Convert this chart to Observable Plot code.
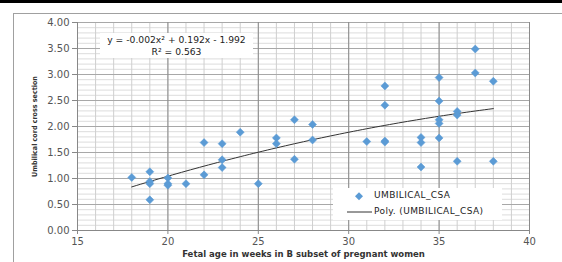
<!DOCTYPE html>
<html>
<head>
<meta charset="utf-8">
<script src="https://cdn.jsdelivr.net/npm/d3@7"></script>
<script src="https://cdn.jsdelivr.net/npm/@observablehq/plot@0.6"></script>
<style>
  html, body { margin: 0; padding: 0; background: #fff; }
  #wrap { position: relative; width: 562px; height: 262px; overflow: hidden; font-family: "DejaVu Sans", sans-serif; }
  #topbar { position: absolute; left: 0; top: 0; width: 562px; height: 3px; background: #000; }
  #frame { position: absolute; left: 13px; top: 13px; width: 560px; height: 260px; border-left: 1px solid #a0a0a0; border-top: 1px solid #a0a0a0; }
  #chart { position: absolute; left: 0; top: 0; }
  #eq { position: absolute; left: 100px; top: 33px; width: 153px; height: 25px; background: #fff; text-align: center; font-size: 9.2px; line-height: 12px; color: #222; white-space: nowrap; }
  #legend { position: absolute; left: 333px; top: 188px; width: 169px; height: 32px; background: #fff; font-size: 9px; color: #222; }
  .li { position: absolute; left: 41px; white-space: nowrap; letter-spacing: 0.4px; }
</style>
</head>
<body>
<div id="wrap">
  <div id="topbar"></div>
  <div id="frame"></div>
  <div id="chart"></div>
  <div id="eq"></div>
  <div id="legend"></div>
</div>
<script>
// Data
const ages = [18,19,19,19,19,20,20,20,21,22,22,23,23,23,24,25,26,26,27,27,28,28,31,32,32,32,32,34,34,34,35,35,35,35,35,36,36,36,37,37,38,38];
const csa  = [1.02,1.13,0.94,0.90,0.59,1.01,0.90,0.87,0.90,1.69,1.07,1.67,1.36,1.21,1.89,0.90,1.78,1.67,2.13,1.37,2.04,1.74,1.71,2.78,2.41,1.72,1.70,1.79,1.69,1.22,2.94,2.49,2.13,2.06,1.78,2.29,2.22,1.33,3.49,3.03,2.87,1.33];
const xTicks = [15,20,25,30,35,40];
const yTicks = [0,0.5,1,1.5,2,2.5,3,3.5,4];
const seriesName = "UMBILICAL_CSA";
const trendName = "Poly. (UMBILICAL_CSA)";
const equationText = "y = -0.002x\u00B2 + 0.192x - 1.992";
const r2Text = "R\u00B2 = 0.563";
const xTitle = "Fetal age in weeks in B subset of pregnant women";
const yTitle = "Umbilical cord cross section";

const data = ages.map((a, i) => ({age: a, csa: csa[i]}));

// Least-squares quadratic fit (as the spreadsheet trendline does)
function polyFit2(xs, ys) {
  const S = [0,0,0,0,0], T = [0,0,0];
  xs.forEach((x, i) => {
    let p = 1;
    for (let k = 0; k < 5; k++) { S[k] += p; if (k < 3) T[k] += p * ys[i]; p *= x; }
  });
  const A = [[S[0],S[1],S[2],T[0]],[S[1],S[2],S[3],T[1]],[S[2],S[3],S[4],T[2]]];
  for (let c = 0; c < 3; c++) {
    for (let r = c + 1; r < 3; r++) {
      const f = A[r][c] / A[c][c];
      for (let k = c; k < 4; k++) A[r][k] -= f * A[c][k];
    }
  }
  const sol = [0,0,0];
  for (let r = 2; r >= 0; r--) {
    let s = A[r][3];
    for (let k = r + 1; k < 3; k++) s -= A[r][k] * sol[k];
    sol[r] = s / A[r][r];
  }
  return sol; // c0, c1, c2
}
const [c0, c1, c2] = polyFit2(ages, csa);
const xmin = d3.min(ages), xmax = d3.max(ages);
const fit = d3.range(0, 81).map(i => {
  const x = xmin + (xmax - xmin) * i / 80;
  return {age: x, csa: c0 + c1 * x + c2 * x * x};
});

const minorX = d3.range(15, 41);
const minorY = d3.range(0, 41).map(i => i / 10);
const blue = "#5B9BD5";

const chart = Plot.plot({
  width: 562,
  height: 262,
  marginLeft: 77,
  marginRight: 33,
  marginTop: 22,
  marginBottom: 32,
  style: {fontFamily: "DejaVu Sans, sans-serif", fontSize: "10px", background: "transparent", color: "#555"},
  x: {domain: [15, 40]},
  y: {domain: [0, 4]},
  marks: [
    Plot.ruleY(minorY, {stroke: "#dcdcdc", strokeWidth: 1}),
    Plot.ruleX(minorX, {stroke: "#cfcfcf", strokeWidth: 1}),
    Plot.ruleY(yTicks, {stroke: "#a8a8a8", strokeWidth: 1}),
    Plot.ruleX(xTicks, {stroke: "#8a8a8a", strokeWidth: 1}),
    Plot.ruleX([15], {stroke: "#888", strokeWidth: 1}),
    Plot.ruleY([0], {stroke: "#888", strokeWidth: 1}),
    Plot.axisY({ticks: yTicks, tickFormat: d3.format(".2f"), tickSize: 5, tickPadding: 3, stroke: "#888", fill: "#555", fontSize: 10, label: null}),
    Plot.axisX({ticks: xTicks, tickFormat: d => String(d), tickSize: 4, tickPadding: 3, stroke: "#888", fill: "#555", fontSize: 10, label: null}),
    Plot.line(fit, {x: "age", y: "csa", stroke: "#333", strokeWidth: 1}),
    Plot.dot(data, {x: "age", y: "csa", symbol: "diamond2", r: 3.6, fill: blue, stroke: blue, strokeWidth: 0.5}),
    Plot.text([xTitle], {frameAnchor: "bottom", dy: 26, textAnchor: "middle", fontWeight: "bold", fontSize: 8.5, fill: "#333", fontFamily: "DejaVu Sans"}),
    Plot.text([yTitle], {frameAnchor: "left", rotate: -90, dx: -43, textAnchor: "middle", fontWeight: "bold", fontSize: 7.1, fill: "#333", fontFamily: "DejaVu Sans Condensed"})
  ]
});
document.getElementById("chart").appendChild(chart);

// Equation box
const eq = document.getElementById("eq");
eq.innerHTML = "";
const l1 = document.createElement("div"); l1.style.marginTop = "1px"; l1.textContent = equationText;
const l2 = document.createElement("div"); l2.textContent = r2Text;
eq.appendChild(l1); eq.appendChild(l2);

// Legend
const lg = document.getElementById("legend");
lg.innerHTML =
  `<svg width="169" height="32" style="position:absolute;left:0;top:0">
     <path d="M26,4.2 L30,8.2 L26,12.2 L22,8.2 Z" fill="${blue}"/>
     <line x1="14" x2="39" y1="24" y2="24" stroke="#333" stroke-width="1"/>
   </svg>
   <div class="li" style="top:2px">${seriesName}</div>
   <div class="li" style="top:18px">${trendName}</div>`;
</script>
</body>
</html>
